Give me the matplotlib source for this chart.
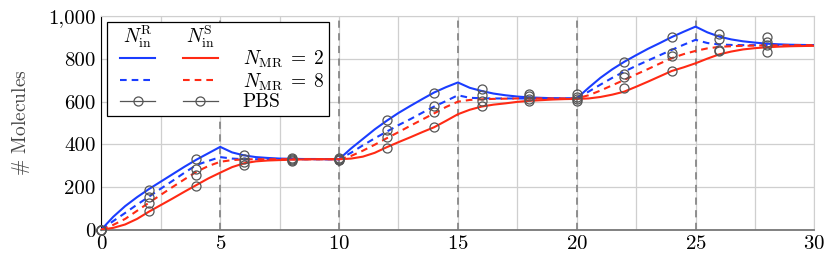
import numpy as np
import matplotlib
matplotlib.use("Agg")
import matplotlib.pyplot as plt
from matplotlib.lines import Line2D
from matplotlib.text import Text
from matplotlib.legend_handler import HandlerBase
from matplotlib.ticker import FuncFormatter, MultipleLocator

plt.rcParams['font.family'] = 'serif'
plt.rcParams['font.serif'] = ['cmr10']
plt.rcParams['mathtext.fontset'] = 'cm'
plt.rcParams['axes.formatter.use_mathtext'] = True
plt.rcParams['font.size'] = 14

# time samples (every 0.5)
t = np.linspace(0, 30, 61)

# N_in^R, N_MR = 2
r_mr2 = [0, 60, 110, 152, 190, 225, 260, 295, 328, 358, 388,
         362, 348, 340, 336, 333, 332, 331, 331, 330, 330,
         380, 425, 470, 510, 547, 580, 612, 643, 668, 690,
         665, 650, 638, 630, 624, 620, 618, 616, 615, 615,
         665, 712, 752, 787, 818, 848, 875, 903, 928, 952,
         925, 905, 892, 883, 877, 872, 869, 867, 866, 865]
# N_in^R, N_MR = 8
r_mr8 = [0, 40, 78, 117, 154, 192, 229, 267, 303, 322, 340,
         333, 330, 330, 330, 330, 330, 330, 330, 330, 330,
         360, 395, 428, 459, 490, 518, 548, 577, 603, 630,
         618, 616, 615, 615, 615, 615, 615, 615, 615, 615,
         647, 680, 712, 741, 768, 793, 818, 843, 867, 890,
         875, 868, 866, 865, 865, 865, 865, 865, 865, 865]
# N_in^S, N_MR = 2
s_mr2 = [0, 8, 24, 50, 84, 115, 146, 178, 209, 240, 267,
         293, 311, 320, 324, 326, 328, 329, 330, 330, 330,
         333, 342, 360, 386, 410, 433, 457, 480, 510, 541,
         562, 577, 586, 592, 599, 604, 607, 610, 612, 613,
         615, 622, 633, 647, 670, 694, 719, 744, 761, 780,
         802, 822, 835, 845, 851, 855, 858, 860, 861, 862]
# N_in^S, N_MR = 8
s_mr8 = [0, 22, 50, 88, 126, 163, 200, 236, 271, 298, 318,
         326, 329, 330, 330, 330, 330, 330, 330, 330, 330,
         345, 370, 398, 428, 457, 487, 516, 545, 575, 600,
         608, 611, 613, 614, 615, 615, 615, 615, 615, 615,
         630, 652, 677, 702, 728, 753, 779, 804, 823, 838,
         850, 857, 860, 862, 863, 864, 864, 865, 865, 865]

# PBS samples
t_pbs = [0, 2, 4, 6, 8, 10, 12, 14, 16, 18, 20, 22, 24, 26, 28]
pbs_r2 = [0, 185, 330, 352, 335, 335, 514, 642, 658, 636, 636, 785, 905, 916, 905]
pbs_r8 = [0, 154, 283, 330, 330, 332, 467, 581, 631, 625, 621, 729, 830, 894, 882]
pbs_s8 = [0, 123, 256, 318, 326, 328, 436, 550, 603, 612, 612, 717, 816, 843, 866]
pbs_s2 = [0, 88, 204, 305, 322, 325, 384, 480, 580, 602, 603, 666, 746, 838, 835]

switch_times = [5, 10, 15, 20, 25]

blue = '#1a3dff'
red = '#ff2a14'
grey = '#555555'
dash = (0, (3.2, 2.4))

fig = plt.figure(figsize=(8.31, 2.6), dpi=100)
ax = fig.add_axes([0.122, 0.117, 0.858, 0.82])

for x in switch_times:
    ax.axvline(x, color='#888888', lw=1.3, ls=(0, (4, 3)), zorder=2)

ax.plot(t, r_mr2, color=blue, lw=1.5, zorder=3)
ax.plot(t, r_mr8, color=blue, lw=1.5, ls=dash, zorder=3)
ax.plot(t, s_mr2, color=red, lw=1.5, zorder=3)
ax.plot(t, s_mr8, color=red, lw=1.5, ls=dash, zorder=3)
for vals in [pbs_r2, pbs_r8, pbs_s8, pbs_s2]:
    ax.plot(t_pbs, vals, ls='none', marker='o', ms=6.5, mfc='none',
            mec=grey, mew=0.9, zorder=4, clip_on=False)

ax.set_xlim(0, 30)
ax.set_ylim(0, 1000)
ax.xaxis.set_major_locator(MultipleLocator(5))
ax.xaxis.set_minor_locator(MultipleLocator(2.5))
ax.yaxis.set_major_locator(MultipleLocator(200))
ax.yaxis.set_major_formatter(FuncFormatter(lambda v, p: f'{v:,.0f}'))
ax.grid(True, which='both', axis='x', color='#cfcfcf', lw=0.9, zorder=0)
ax.grid(True, which='major', axis='y', color='#cfcfcf', lw=0.9, zorder=0)
ax.tick_params(which='both', length=0, labelsize=15, pad=4)
ax.set_ylabel(r'$\#$ Molecules', fontsize=14, color='#444444', labelpad=12)

ax.spines['top'].set_color('#cfcfcf')
ax.spines['right'].set_color('#cfcfcf')
ax.spines['left'].set_color('black')
ax.spines['bottom'].set_color('#777777')
ax.spines['bottom'].set_linewidth(1.3)

# legend layout (in font-size units)
OFF, SEG, GAP = 0.45, 1.8, 1.39


class Row:
    def __init__(self, *items):
        self.items = items


class RowHandler(HandlerBase):
    def create_artists(self, legend, orig_handle, xdescent, ydescent,
                       width, height, fontsize, trans):
        y = (height - ydescent) / 2
        arts = []
        for i, item in enumerate(orig_handle.items):
            x0 = -xdescent + (OFF + i * (SEG + GAP)) * fontsize
            x1 = x0 + SEG * fontsize
            if isinstance(item, str):
                arts.append(Text((x0 + x1) / 2, y, item,
                                 ha='center', va='center', fontsize=fontsize,
                                 transform=trans))
                continue
            st = dict(item)
            mk = st.pop('marker', None)
            arts.append(Line2D([x0, x1], [y, y], transform=trans, **st))
            if mk:
                arts.append(Line2D([(x0 + x1) / 2], [y], ls='none', marker=mk,
                                   ms=6.5, mfc='none', mec=st['color'],
                                   mew=0.9, transform=trans))
        return arts


header = Row(r'$N_{\rm in}^{\rm R}$', r'$N_{\rm in}^{\rm S}$')
h2 = Row(dict(color=blue, lw=1.5), dict(color=red, lw=1.5))
h8 = Row(dict(color=blue, lw=1.5, ls=dash), dict(color=red, lw=1.5, ls=dash))
hp = Row(dict(color=grey, lw=0.9, marker='o'), dict(color=grey, lw=0.9, marker='o'))
leg = ax.legend([header, h2, h8, hp],
                [r'$N^{\rm R}$', r'$N_{\rm MR}\;=\;2$',
                 r'$N_{\rm MR}\;=\;8$', 'PBS'],
                handler_map={Row: RowHandler()},
                loc='upper left', bbox_to_anchor=(0.0077, 0.974),
                borderaxespad=0, fancybox=False, framealpha=1,
                edgecolor='black', fontsize=14,
                handlelength=OFF + 2 * SEG + GAP,
                handletextpad=1.29, labelspacing=0.05, borderpad=0.25)
# the first label only reserves room for the header row
leg.get_texts()[0].set_color('none')
leg.get_frame().set_linewidth(0.9)
leg.set_zorder(5)

fig.savefig('out.png', dpi=100)
